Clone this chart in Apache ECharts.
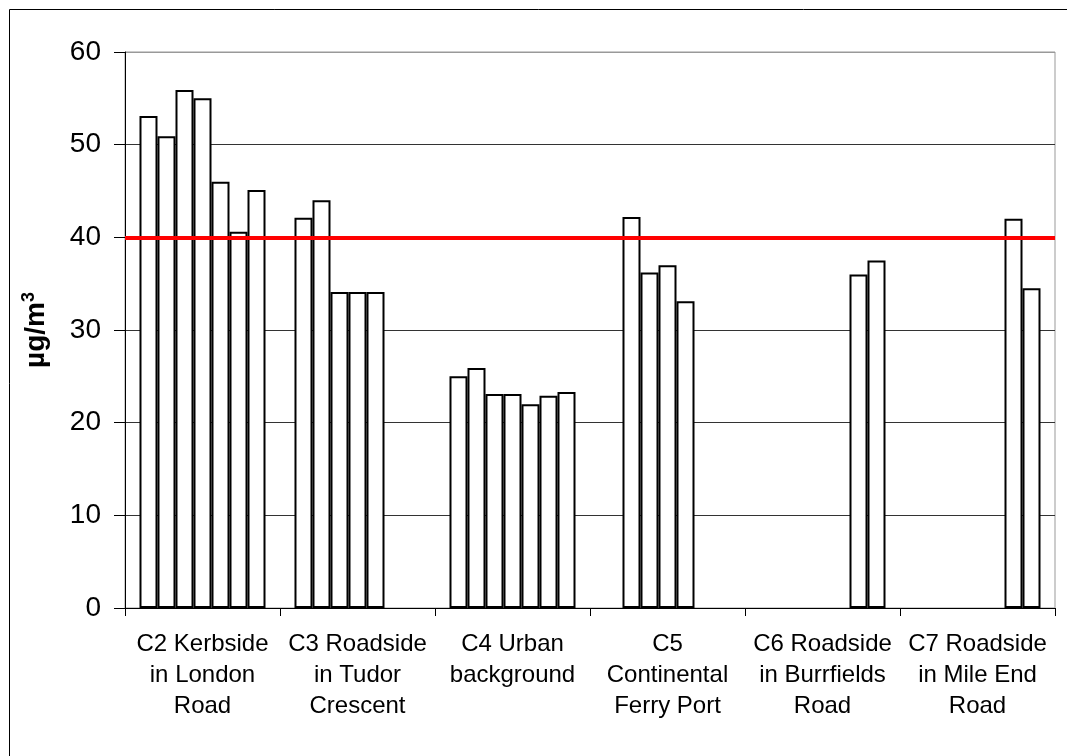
<!DOCTYPE html>
<html>
<head>
<meta charset="utf-8">
<script src="https://cdn.jsdelivr.net/npm/echarts@6/dist/echarts.min.js"></script>
<style>
  html, body { margin: 0; padding: 0; background: #fff; }
  #chart { width: 1067px; height: 756px; }
</style>
</head>
<body>
<div id="chart"></div>
<script>
// Categories (monitoring sites)
var categories = [
  'C2 Kerbside\nin London\nRoad',
  'C3 Roadside\nin Tudor\nCrescent',
  'C4 Urban\nbackground',
  'C5\nContinental\nFerry Port',
  'C6 Roadside\nin Burrfields\nRoad',
  'C7 Roadside\nin Mile End\nRoad'
];
// Values per site, one per bar position (7 bar series), null = no data
var c2Values = [53.1, 50.9, 55.9, 55.0, 46.0, 40.6, 45.1];
var c3Values = [42.1, 44.0, 34.1, 34.1, 34.1, null, null];
var c4Values = [25.0, 25.9, 23.1, 23.1, 22.0, 22.9, 23.3];
var c5Values = [null, 42.2, 36.2, 37.0, 33.1, null, null];
var c6Values = [null, null, null, null, null, 36.0, 37.5];
var c7Values = [null, null, null, null, null, 42.0, 34.5];
var seriesNames = ['Series 1', 'Series 2', 'Series 3', 'Series 4', 'Series 5', 'Series 6', 'Series 7'];
var yTicks = [0, 10, 20, 30, 40, 50, 60];
var limitValue = 40;

var siteRows = [c2Values, c3Values, c4Values, c5Values, c6Values, c7Values];
var FONT = '"Liberation Sans", Arial, sans-serif';

var series = seriesNames.map(function (name, i) {
  var s = {
    name: name,
    type: 'bar',
    barGap: '0%',
    barCategoryGap: '18.7%',
    data: siteRows.map(function (row) { return row[i]; }),
    itemStyle: { color: '#ffffff', borderColor: '#000000', borderWidth: 2 },
    emphasis: { disabled: true },
    silent: true
  };
  if (i === 0) {
    s.markLine = {
      silent: true,
      symbol: ['none', 'none'],
      label: { show: false },
      lineStyle: { color: '#ff0000', width: 4, type: 'solid' },
      data: [{ yAxis: limitValue }],
      z: 10
    };
  }
  return s;
});

var chart = echarts.init(document.getElementById('chart'), null, { renderer: 'canvas' });
chart.setOption({
  animation: false,
  backgroundColor: '#ffffff',
  textStyle: { fontFamily: FONT },
  grid: {
    left: 125, right: 12, top: 52, bottom: 148,
    show: true, borderColor: '#999999', borderWidth: 1, backgroundColor: 'transparent'
  },
  graphic: [{
    type: 'rect',
    left: 7, top: 7,
    shape: { x: 0.5, y: 0.5, width: 1200, height: 900 },
    style: { fill: 'none', stroke: '#000000', lineWidth: 1 },
    silent: true
  }],
  xAxis: {
    type: 'category',
    data: categories,
    axisLine: { show: true, lineStyle: { color: '#000000', width: 1 } },
    axisTick: { show: true, length: 8, lineStyle: { color: '#000000' } },
    axisLabel: {
      interval: 0, color: '#000000', fontSize: 24, lineHeight: 31,
      margin: 21, fontFamily: FONT
    },
    splitLine: { show: false }
  },
  yAxis: {
    type: 'value',
    min: yTicks[0], max: yTicks[yTicks.length - 1], interval: 10,
    name: '{a|µg/m}{b|3}',
    nameLocation: 'middle',
    nameRotate: 90,
    nameGap: 73,
    nameTextStyle: {
      rich: {
        a: { fontSize: 28, fontWeight: 'bold', color: '#000', fontFamily: FONT, lineHeight: 32 },
        b: { fontSize: 18, fontWeight: 'bold', color: '#000', fontFamily: FONT, verticalAlign: 'top', lineHeight: 32 }
      }
    },
    axisLine: { show: true, lineStyle: { color: '#000000', width: 1 } },
    axisTick: { show: true, length: 11, lineStyle: { color: '#000000' } },
    axisLabel: { color: '#000000', fontSize: 28, margin: 24, fontFamily: FONT },
    splitLine: {
      show: true,
      lineStyle: { color: ['#333333', '#333333', '#333333', '#333333', '#333333', '#333333', '#999999'], width: 1 }
    }
  },
  legend: { show: false },
  tooltip: { show: false },
  series: series
});
</script>
</body>
</html>
